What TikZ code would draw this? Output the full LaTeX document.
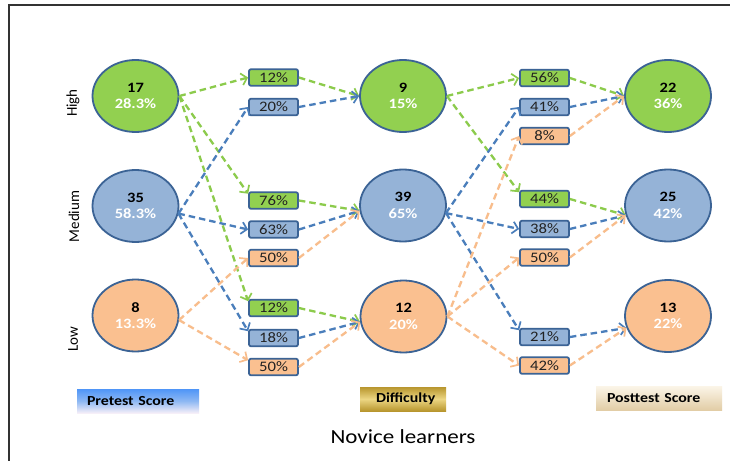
\documentclass[tikz,border=0pt]{standalone}
\usepackage{fontspec}
\setmainfont{Carlito}
\newfontfamily\wide{Carlito}[FakeStretch=1.15]
\usetikzlibrary{arrows.meta,shapes.geometric,calc}
\definecolor{gfill}{HTML}{92D050}
\definecolor{bfill}{HTML}{95B3D7}
\definecolor{ofill}{HTML}{FAC090}
\definecolor{edgeb}{HTML}{3B6395}
\definecolor{gline}{HTML}{8CCB4C}
\definecolor{bline}{HTML}{4A7EBB}
\definecolor{oline}{HTML}{F8BD8C}
\definecolor{txt}{HTML}{222222}
\definecolor{frame}{HTML}{333333}
\definecolor{preT}{HTML}{4F95F7}
\definecolor{preM}{HTML}{8DB8F3}
\definecolor{preB}{HTML}{F6EFF8}
\definecolor{goldD}{HTML}{B8962E}
\definecolor{goldL}{HTML}{ECD683}
\definecolor{postT}{HTML}{FBF5E8}
\definecolor{postB}{HTML}{E2CDA6}
\begin{document}
\begin{tikzpicture}[x=1pt,y=-1pt,
  circ/.style={ellipse, draw=edgeb, line width=1.8pt, minimum width=86pt, minimum height=72pt, inner sep=0pt, align=center, font=\wide\bfseries\fontsize{14.3}{16.5}\selectfont},
  pbox/.style={rectangle, rounded corners=2pt, draw=edgeb, line width=1.8pt, minimum width=49pt, minimum height=16.5pt, inner sep=0pt, text=txt, font=\wide\fontsize{14.5}{16}\selectfont},
  conn/.style={line width=2.3pt, dash pattern=on 6.5pt off 4pt, -{Straight Barb[length=5.5pt,width=12pt,line width=1.7pt]}},
  gc/.style={conn, draw=gline},
  bc/.style={conn, draw=bline},
  oc/.style={conn, draw=oline},
  side/.style={rotate=90, font=\fontsize{15}{17}\selectfont},
  legend/.style={rectangle, inner ysep=0pt, minimum height=24pt, align=left, font=\wide\bfseries\fontsize{13.8}{15}\selectfont}
]
\useasboundingbox (0,0) rectangle (730,460);
\fill[white] (0,0) rectangle (730,460);
\draw[frame, line width=2.3pt] (9,462) -- (9,5) -- (732,5);

% pretest circles
\node[circ, fill=gfill] (H1) at (135.5,96) {17\\{\color{white}28.3\%}};
\node[circ, fill=bfill] (M1) at (135.5,206) {35\\{\color{white}58.3\%}};
\node[circ, fill=ofill] (L1) at (135.5,315.5) {8\\{\color{white}13.3\%}};
% difficulty circles
\node[circ, fill=gfill] (D1) at (403,96) {9\\{\color{white}15\%}};
\node[circ, fill=bfill] (D2) at (403,205.5) {39\\{\color{white}65\%}};
\node[circ, fill=ofill] (D3) at (403.5,316.5) {12\\{\color{white}20\%}};
% posttest circles
\node[circ, fill=gfill] (P1) at (668,96) {22\\{\color{white}36\%}};
\node[circ, fill=bfill] (P2) at (668,205.5) {25\\{\color{white}42\%}};
\node[circ, fill=ofill] (P3) at (668,316) {13\\{\color{white}22\%}};

% side labels
\node[side] (sH) at (73,103) {High};
\node[side] (sM) at (74,216.5) {Medium};
\node[side] (sL) at (73,339.5) {Low};

% first box column
\node[pbox, fill=gfill] (a1) at (273.5,77.5) {12\%};
\node[pbox, fill=bfill] (a2) at (273.5,107) {20\%};
\node[pbox, fill=gfill] (a3) at (273.5,200.5) {76\%};
\node[pbox, fill=bfill] (a4) at (273.5,229.5) {63\%};
\node[pbox, fill=ofill] (a5) at (273.5,258) {50\%};
\node[pbox, fill=gfill] (a6) at (273.5,308) {12\%};
\node[pbox, fill=bfill] (a7) at (273.5,338) {18\%};
\node[pbox, fill=ofill] (a8) at (273.5,367) {50\%};
% second box column
\node[pbox, fill=gfill] (b1) at (544.5,78) {56\%};
\node[pbox, fill=bfill] (b2) at (544.5,107) {41\%};
\node[pbox, fill=ofill] (b3) at (544.5,136) {8\%};
\node[pbox, fill=gfill] (b4) at (544.5,199) {44\%};
\node[pbox, fill=bfill] (b5) at (544.5,229) {38\%};
\node[pbox, fill=ofill] (b6) at (544.5,257.5) {50\%};
\node[pbox, fill=bfill] (b7) at (544.5,337) {21\%};
\node[pbox, fill=ofill] (b8) at (544.5,365.5) {42\%};

% pretest -> boxes
\draw[gc] (H1.east) -- (a1.west);
\draw[gc] (H1.east) -- (a3.165);
\draw[gc] (H1.east) -- (a6.165);
\draw[bc] (M1.-10) -- (a2.west);
\draw[bc] (M1.-10) -- (a4.west);
\draw[bc] (M1.-10) -- (a7.165);
\draw[oc] (L1.-6) -- (a5.west);
\draw[oc] (L1.-6) -- (a8.165);
% boxes -> difficulty
\draw[gc] (a1.east) -- (D1.west);
\draw[bc] (a2.east) -- (D1.west);
\draw[gc] (a3.east) -- (D2.187);
\draw[bc] (a4.east) -- (D2.187);
\draw[oc] (a5.east) -- (D2.187);
\draw[gc] (a6.east) -- (D3.187);
\draw[bc] (a7.east) -- (D3.187);
\draw[oc] (a8.east) -- (D3.187);
% difficulty -> boxes
\draw[gc] (D1.east) -- (b1.west);
\draw[gc] (D1.east) -- (b4.165);
\draw[bc] (D2.-10) -- (b2.west);
\draw[bc] (D2.-10) -- (b5.west);
\draw[bc] (D2.-10) -- (b7.165);
\draw[oc] (D3.east) -- (b3.west);
\draw[oc] (D3.east) -- (b6.west);
\draw[oc] (D3.east) -- (b8.west);
% boxes -> posttest
\draw[gc] (b1.east) -- (P1.west);
\draw[bc] (b2.east) -- (P1.west);
\draw[oc] (b3.east) -- (P1.west);
\draw[gc] (b4.east) -- (P2.193);
\draw[bc] (b5.east) -- (P2.193);
\draw[oc] (b6.east) -- (P2.193);
\draw[bc] (b7.east) -- (P3.196);
\draw[oc] (b8.east) -- (P3.196);

% legend
\node[legend, top color=preT, bottom color=preB, middle color=preM, inner xsep=10pt, text width=102pt] (lpre) at (138,401) {Pretest Score};
\node[legend, top color=goldD, bottom color=goldD, middle color=goldL, inner xsep=16pt, text width=54pt] (ldif) at (403,399) {Difficulty};
\node[legend, top color=postT, bottom color=postB, inner xsep=11pt, text width=104pt] (lpost) at (659,398) {Posttest Score};

\node[font=\wide\fontsize{20}{22}\selectfont] (title) at (403,437) {Novice learners};
\end{tikzpicture}
\end{document}
